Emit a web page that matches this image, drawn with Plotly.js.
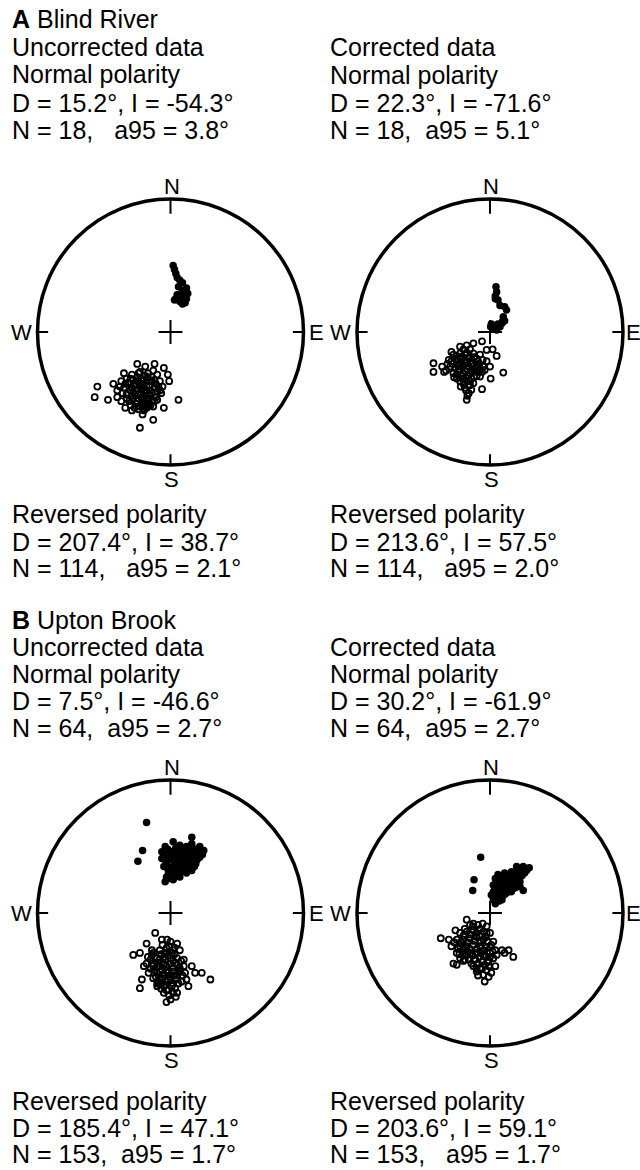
<!DOCTYPE html>
<html><head><meta charset="utf-8">
<script src="https://cdn.plot.ly/plotly-3.0.1.min.js"></script>
<style>html,body{margin:0;padding:0;background:#fff;}#chart{width:640px;height:1170px;}</style>
</head><body><div id="chart"></div>
<script>
// Equal-area stereonet coordinates, in percent of primitive-circle radius (x = east, y = north)
// Panel A: Blind River
const aUncNormal = [[2,50],[3,47],[4,44],[5,41],[7,39],[9,37],[6,34],[12,33],[13,29],[9,27],[4,25],[7,23],[11,22],[3,24],[9,31],[5,28],[12,25],[9,21]];
const aUncReversed = [[-25,-24],[-19,-26],[-12,-24],[-5,-27],[-2,-32],[-1,-37],[-35,-31],[-43,-39],[-55,-41],[-57,-49],[-47,-51],[-40,-44],[-37,-52],[-34,-57],[-29,-59],[-20,-59],[-15,-55],[-5,-57],[6,-51],[-7,-46],[-6,-41],[-13,-66],[-23,-72],
  [-33,-35],[-29,-32],[-23,-30],[-17,-31],[-10,-32],[-31,-39],[-25,-37],[-20,-36],[-14,-37],[-8,-37],[-35,-42],[-29,-42],[-23,-41],[-18,-41],[-12,-42],[-33,-47],[-27,-47],[-22,-46],[-16,-47],[-11,-49],[-31,-52],[-25,-52],[-20,-51],[-14,-52],[-23,-56],[-18,-57],[-27,-57],[-37,-37],[-22,-39],[-28,-45],[-18,-44],[-24,-50],[-19,-54],[-30,-35],[-14,-34],[-10,-51],[-40,-49],[-9,-41],[-20,-42],[-25,-34],[-20,-58],[-21,-56],
  [-32,-38],[-27,-40],[-22,-35],[-17,-34],[-12,-36],[-30,-44],[-25,-43],[-20,-45],[-15,-44],[-10,-45],[-33,-50],[-28,-50],[-22,-49],[-17,-50],[-12,-52],[-26,-54],[-21,-53],[-16,-54],[-36,-46],[-38,-41],[-24,-31],[-19,-33],[-13,-29],[-28,-36],[-34,-39],[-22,-43],[-18,-48],[-14,-46],[-24,-47],[-29,-48],[-26,-39],[-20,-39],[-16,-40],[-11,-39],[-8,-44],[-30,-55],[-24,-58],[-17,-56],[-13,-56],[-21,-62]];
const aCorNormal = [[4.5,34],[5,30],[4,27],[6,24],[7.5,20],[11,19],[12.5,16.5],[10,11.5],[11,8.5],[9,6.5],[6,6],[1,6],[2,3],[5,1.5],[7.5,4],[4,25],[9.5,8],[0.5,4]];
const aCorReversed = [[-42.5,-23.5],[-42.5,-30],[-34.5,-30],[-31,-21],[-29,-15],[-22.5,-11],[-17.5,-10],[-12.5,-8.5],[-6,-7],[-2.5,-13.5],[2,-13],[5,-18],[0,-26],[10,-30.5],[0.5,-35],[-6,-43],[-17.5,-51],[-14,-43.5],[-7.5,-28.5],[-2.5,-22],
  [-27.5,-17],[-22.5,-16],[-17.5,-15.5],[-12.5,-16],[-7.5,-17],[-29,-22],[-24,-21.5],[-19,-21],[-14,-21.5],[-9,-22],[-26,-27],[-21,-26.5],[-16,-26],[-11,-27],[-5,-26],[-25,-32],[-20,-31.5],[-15,-31],[-10,-33],[-22.5,-37],[-17.5,-36.5],[-12.5,-38.5],[-19,-42],[-16,-46],[-30,-26],[-27.5,-31],[-21,-18.5],[-15,-18.5],[-10,-20],[-5.5,-21],[-20,-35],[-14,-35],[-7.5,-33.5],[-4,-28.5],[-36,-26],[-15,-40],[-24,-25],
  [-26,-20],[-21,-20],[-16,-20],[-12,-19],[-28,-24],[-23,-24],[-18,-23],[-13,-24],[-8,-24],[-24,-29],[-19,-29],[-14,-29],[-9,-30],[-27,-34],[-22,-33],[-17,-33],[-12,-34],[-20,-39],[-15,-37],[-18,-44],[-25,-18],[-20,-13],[-15,-13],[-32,-24],[-33,-29],[-23,-28],[-17,-28],[-12,-29],[-21,-24],[-19,-17],[-14,-24],[-6,-30],[-10,-25],[-25,-35],[-22,-41],[-17,-48]];
// Panel B: Upton Brook
const bUncNormal = [[-18,68],[-21,47],[-24.5,39],[16,57],[-4,50],[2,53.5],[7,51],[12,50],[22,50],[25,47],[20,45],[15,42],[10,45],[5,46],[-3,45],[-6.5,41],[0,40],[7,40],[16,38.5],[22,42],[-5,35],[2,35],[10,33.5],[16,32],[12,30],[-1.5,30],[-4,23.5],[2,25],[7,27],[1,46],[17,46],[5,31],
  [-3,37],[5,37],[12,37],[20,40],[8.5,47],[0,32],[-6.5,46],[-3,27],[3.5,27],[22,46],[12,46],[16,52],[1,42],[10,41],[6,33.5],[13.5,35],
  [-2,48],[4,49],[9,48],[14,48],[19,48],[24,44],[18,43],[13,44],[3,43],[-1,43],[-4,40],[3,39],[9,39],[14,40],[19,37],[-2,33],[4,33],[8,31],[13,33],[18,35],[0,28],[5,29],[-1,26],[9,36],[6,43]];
const bUncReversed = [[-11.5,-15],[-6.5,-20],[0,-21.5],[5,-23],[7,-28],[10,-35],[16,-40],[23.5,-45],[30,-50],[13.5,-55],[5,-60],[0,-65],[-3,-67],[-5,-55],[-10,-53],[-21.5,-50],[-23,-56.5],[-20,-40],[-28,-31.5],[-23,-30],[-18,-23],[-14,-28],
  [-13,-30],[-8,-28],[-3,-26.5],[2,-28],[-15,-35],[-10,-34],[-5,-33],[0,-34],[5,-34],[-13,-40],[-8,-40],[-3,-40],[2,-41],[7,-41.5],[-10,-45],[-5,-46],[0,-46.5],[5,-47],[-8,-50],[-3,-51.5],[2,-53],[8.5,-51.5],[-1.5,-58],[3.5,-56.5],[-5,-60],[-18,-38],[-16.5,-45],[-13,-49],[11,-45],[12,-50],[10,-40],[1,-30],[-4,-30],[-9,-37.5],[3.5,-37.5],[-14,-31.5],[0,-50],[-10,-55],[18.5,-45],[-2.5,-20],[6,-45],[-6.5,-43],
  [-12,-33],[-7,-31],[-2,-32],[3,-31],[-14,-38],[-10,-40],[-5,-38],[0,-38],[5,-39],[-12,-43],[-8,-44],[-3,-43],[2,-44],[7,-44],[-11,-48],[-6,-49],[-1,-48],[4,-50],[-9,-52],[-4,-54],[1,-55],[6,-53],[-3,-58],[2,-60],[-7,-57],[-15,-42],[-17,-33],[8,-36],[9,-47],[-1,-25],[-6,-24],[3,-26],[-4,-35],[2,-36],[-8,-35],[-2,-45],[3,-47],[-6,-52],[-1,-62],[4,-63]];
const bCorNormal = [[-7,42],[-12,25],[-13,17],[20,35],[25,35],[29.5,34],[26,30],[21,31],[16,31],[11,30],[6,29],[4,26],[9,25],[14,25],[19,25],[22.5,23.5],[2.5,21],[7.5,20],[12.5,20],[17.5,18.5],[25,17],[2.5,16],[7.5,15],[12.5,15],[5,11],[9,10],[4,7],[10,27],[15,22],[20,21],[6,18],[11,17],[16,16],[22.5,27],[27.5,32],[1,13.5],[5,22],[9.5,13],[19,28.5],[14,28.5],[22.5,20],[10,22],[2.5,10],
  [17,30],[23,32],[13,27],[18,26],[24,28],[8,23],[13,23],[18,22],[4,18],[9,19],[14,18],[19,19],[6,14],[11,14],[3,12],[7,9],[20,24],[16,26]];
const bCorReversed = [[-17.5,-5],[-12.5,-8],[-5.5,-8],[-37,-19],[-31,-20],[-26,-13],[-27.5,-38],[-25,-39],[-19,-35],[-10,-41.5],[-4,-51.5],[1,-45],[4,-40],[9,-28],[14,-28],[17.5,-33],[0,-15],[-2.5,-10],
  [-22.5,-15],[-17.5,-14],[-12.5,-13],[-7.5,-12],[-2.5,-15],[-25,-20],[-20,-20],[-15,-19],[-10,-18],[-5,-20],[-22.5,-25],[-17.5,-25],[-12.5,-24],[-7.5,-25],[-2.5,-26],[-20,-30],[-15,-30],[-10,-30],[-5,-31.5],[0,-30],[-16,-35],[-11,-35],[-6,-36.5],[-1,-36],[-12.5,-40],[-7.5,-41.5],[-2.5,-43],[-5,-46.5],[2.5,-21.5],[4,-28],[2.5,-34],[-29,-25],[-25,-30],[5,-31.5],[11,-30],[-15,-9],[-9,-9],[-22.5,-34],[-1,-48],
  [-20,-17],[-15,-16],[-10,-15],[-5,-14],[-22,-22],[-17,-22],[-12,-21],[-7,-22],[-2,-21],[-20,-27],[-15,-27],[-10,-27],[-5,-28],[0,-26],[-18,-32],[-13,-32],[-8,-33],[-3,-33],[-14,-38],[-9,-38],[-4,-39],[-10,-44],[-6,-42],[-24,-27],[-27,-22],[-19,-12],[-13,-10],[-8,-17],[-3,-18],[1,-24],[2,-29],[-1,-40],[-20,-36],[-17,-29],[-12,-35],[-7,-30],[-2,-37],[-9,-47],[0,-33],[-23,-31]];

// Text blocks
const topLeftText = ["<b>A</b> Blind River", "Uncorrected data", "Normal polarity", "D = 15.2°, I = -54.3°", "N = 18,\u00a0\u00a0 a95 = 3.8°"];
const topRightText = ["Corrected data", "Normal polarity", "D = 22.3°, I = -71.6°", "N = 18,\u00a0 a95 = 5.1°"];
const midLeftText = ["Reversed polarity", "D = 207.4°, I = 38.7°", "N = 114,\u00a0\u00a0 a95 = 2.1°"];
const midRightText = ["Reversed polarity", "D = 213.6°, I = 57.5°", "N = 114,\u00a0\u00a0 a95 = 2.0°"];
const bLeftText = ["<b>B</b> Upton Brook", "Uncorrected data", "Normal polarity", "D = 7.5°, I = -46.6°", "N = 64,\u00a0 a95 = 2.7°"];
const bRightText = ["Corrected data", "Normal polarity", "D = 30.2°, I = -61.9°", "N = 64,\u00a0 a95 = 2.7°"];
const botLeftText = ["Reversed polarity", "D = 185.4°, I = 47.1°", "N = 153,\u00a0 a95 = 1.7°"];
const botRightText = ["Reversed polarity", "D = 203.6°, I = 59.1°", "N = 153,\u00a0\u00a0 a95 = 1.7°"];
const compass = ["N", "E", "S", "W"];

// ---------- layout geometry ----------
const W = 640, H = 1170, R = 133, PAD = 1.05;
const nets = [
  {cx: 170.5, cy: 332, rev: aUncReversed, nor: aUncNormal},
  {cx: 490, cy: 332, rev: aCorReversed, nor: aCorNormal},
  {cx: 170.5, cy: 913, rev: bUncReversed, nor: bUncNormal},
  {cx: 490, cy: 913, rev: bCorReversed, nor: bCorNormal}
];
const FONT = {family: "Liberation Sans, Arial, Helvetica, sans-serif", size: 25, color: "#000"};
const CFONT = {family: "Liberation Sans, Arial, Helvetica, sans-serif", size: 22, color: "#000"};

const data = [], shapes = [], annotations = [];
const layout = {width: W, height: H, margin: {l:0, r:0, t:0, b:0}, showlegend: false,
  paper_bgcolor: "#fff", plot_bgcolor: "rgba(0,0,0,0)"};

nets.forEach((n, i) => {
  const k = i === 0 ? "" : String(i + 1);
  const xa = "x" + k, ya = "y" + k;
  const half = R * PAD;
  layout["xaxis" + k] = {domain: [(n.cx - half) / W, (n.cx + half) / W], range: [-100*PAD, 100*PAD],
    visible: false, showgrid: false, zeroline: false, fixedrange: true, anchor: ya};
  layout["yaxis" + k] = {domain: [1 - (n.cy + half) / H, 1 - (n.cy - half) / H], range: [-100*PAD, 100*PAD],
    visible: false, showgrid: false, zeroline: false, fixedrange: true, anchor: xa};
  data.push({type: "scatter", mode: "markers", xaxis: xa, yaxis: ya, cliponaxis: false,
    x: n.rev.map(p => p[0]), y: n.rev.map(p => p[1]), hoverinfo: "skip",
    marker: {symbol: "circle-open", size: 6, color: "#000", line: {width: 1.8, color: "#000"}}});
  data.push({type: "scatter", mode: "markers", xaxis: xa, yaxis: ya, cliponaxis: false,
    x: n.nor.map(p => p[0]), y: n.nor.map(p => p[1]), hoverinfo: "skip",
    marker: {symbol: "circle", size: 7.5, color: "#000"}});
  const L = {color: "#000", width: 2};
  shapes.push({type: "circle", xref: xa, yref: ya, x0: -100, x1: 100, y0: -100, y1: 100, line: {color: "#000", width: 3.5}});
  shapes.push({type: "line", xref: xa, yref: ya, x0: 0, x1: 0, y0: 100, y1: 89, line: L});
  shapes.push({type: "line", xref: xa, yref: ya, x0: 0, x1: 0, y0: -100, y1: -92, line: L});
  shapes.push({type: "line", xref: xa, yref: ya, x0: -100, x1: -92, y0: 0, y1: 0, line: L});
  shapes.push({type: "line", xref: xa, yref: ya, x0: 100, x1: 92, y0: 0, y1: 0, line: L});
  shapes.push({type: "line", xref: xa, yref: ya, x0: -9, x1: 9, y0: 0, y1: 0, line: L});
  shapes.push({type: "line", xref: xa, yref: ya, x0: 0, x1: 0, y0: -9, y1: 9, line: L});
  const ann = (txt, px, py, xanchor) => annotations.push({text: txt, xref: "paper", yref: "paper",
    x: px / W, y: 1 - py / H, xanchor: xanchor, yanchor: "middle", showarrow: false, font: CFONT, borderpad: 0});
  ann(compass[0], n.cx + 1, n.cy - R - 13, "center");
  ann(compass[1], Math.min(n.cx + R + 4, W - 15), n.cy, "left");
  ann(compass[2], n.cx + 1, n.cy + R + 14, "center");
  ann(compass[3], n.cx - R - 5, n.cy, "right");
});

function block(lines, px, ys) {
  lines.forEach((t, j) => annotations.push({text: t, xref: "paper", yref: "paper", x: px / W, y: 1 - ys[j] / H,
    xanchor: "left", yanchor: "middle", showarrow: false, font: FONT, align: "left", borderpad: 0}));
}
block(topLeftText, 11, [19, 47, 74, 103, 130]);
block(topRightText, 329, [47, 75, 103, 130]);
block(midLeftText, 11, [514, 542, 568]);
block(midRightText, 329, [514, 542, 568]);
block(bLeftText, 11, [620, 647, 674, 701, 728]);
block(bRightText, 329, [647, 674, 701, 728]);
block(botLeftText, 11, [1101, 1128, 1154]);
block(botRightText, 329, [1101, 1128, 1154]);

layout.shapes = shapes;
layout.annotations = annotations;
Plotly.newPlot("chart", data, layout, {staticPlot: true, displayModeBar: false});
</script></body></html>
